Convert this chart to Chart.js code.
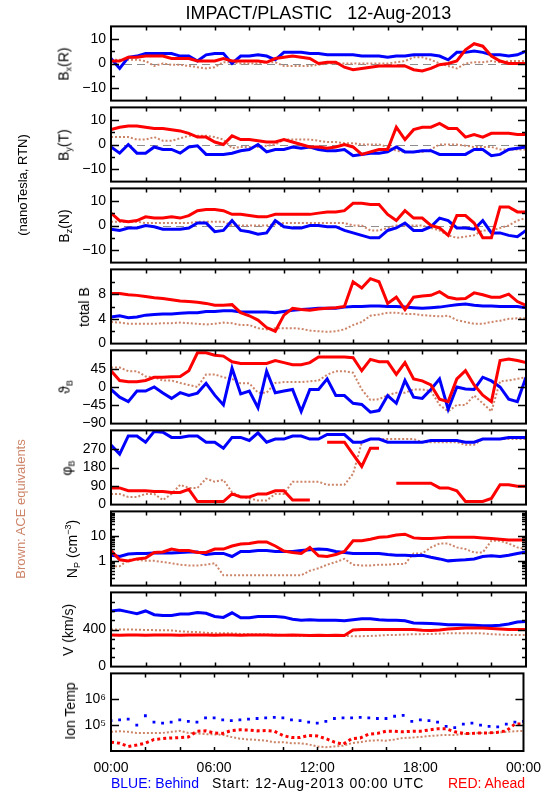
<!DOCTYPE html>
<html>
<head>
<meta charset="utf-8">
<title>IMPACT/PLASTIC 12-Aug-2013</title>
<script src="https://cdn.jsdelivr.net/npm/chart.js@4.4.1/dist/chart.umd.min.js"></script>
<style>
  html, body { margin: 0; padding: 0; background: #fff; }
  #page { position: relative; width: 550px; height: 800px; overflow: hidden; font-family: "Liberation Sans", Arial, sans-serif; color: #000; }
  #page canvas { position: absolute; left: 0; }
  .txt { position: absolute; white-space: pre; line-height: 1; font-size: 14px; transform: translate(-50%, -50%); }
  .txt.rot { transform: translate(-50%, -50%) rotate(-90deg); }
  .txt.left { transform: translate(0, -50%); }
  .txt sub { font-size: 9px; vertical-align: -3px; }
  .txt sup { font-size: 9px; vertical-align: 6px; }
</style>
</head>
<body>
<div id="page"></div>
<script>
// time axis: hours after 12-Aug-2013 00:00 UTC, every 30 min
const hours = [0,0.5,1,1.5,2,2.5,3,3.5,4,4.5,5,5.5,6,6.5,7,7.5,8,8.5,9,9.5,10,10.5,11,11.5,12,12.5,13,13.5,14,14.5,15,15.5,16,16.5,17,17.5,18,18.5,19,19.5,20,20.5,21,21.5,22,22.5,23,23.5,24];
const hourTicks = [0, 6, 12, 18, 24];
const hourLabels = ['00:00', '06:00', '12:00', '18:00', '00:00'];

// Bx (R), nT
const bxBehind = [2,-2,2.5,3,4,4,4,4,3,3,1,3.5,4,4,0,3,3,3.5,3,1.5,4.5,4.5,4.5,4,4,3.5,3.5,3.5,3.5,3,3,3,2.5,3,3,3.5,3.5,3.5,3,1.5,4.5,4.5,5,4.5,3.5,3.5,3,3.5,5];
const bxAhead = [1,1,2.5,2.5,3,3,3,2,2,2,1,1,1,2,1,1,1,1,0.5,2,2.5,3,2.5,2,0,0.5,0.5,-1.5,-2.5,-2,-1.5,-1,-1,-1,-1,-2.5,-3,-2,-0.5,0,1,5.5,8,7,3,1,0,0,0];
const bxAce = [1.5,1.5,1.5,1.5,1,-1,0,-0.5,-0.5,-1,-1.5,-2,-1.5,0.5,0.5,0,0,0,0.5,0.5,-1,-1,-1,-1,-0.5,0,0,0,0,0,0,0,0,0.5,1,2.5,2.5,1.5,0,-1,-2,0,0.5,0.5,1,0.5,1,1,1];

// By (T), nT
const byBehind = [-1,-3.5,0,-3.5,-3.5,-1,-2,-2,-3.5,-1,-0.5,-4,-4,-4,-3.5,-2.5,-2,0,-3,-2,-2,-1,-1.5,-1,-2,-2.5,-2.5,-2,-4.5,-4,-3.5,-3.5,-3,-1,-3,-3,-2.5,-2.5,-4,-4,-4,-4,-2,-2,-4.5,-4,-2,-1.5,-1];
const byAhead = [6,7,7.5,7.5,7,6.5,6.5,6,5.5,4.5,3,3,1,0,3.5,2,2,1.5,1,1,2,1,0,-1,-1,-1.5,-1,0,-1,-4,-3,-2,-2,7,2,6,7,7,8.5,6.5,6.5,3,4,3,4.5,4.5,4.5,4,4];
const byAce = [3,3,3,2,2,3,1.5,1.5,2.5,3.5,3.5,3.5,3,2,-1.5,-1,-1,-1,-0.5,0,2,2,2,2,1.5,1,1,0.5,0.5,0,0,0,-1,-2.5,-3,-3,-3,-2,0,0,0,-0.5,-1,-1,-1,-2,-2,-2,-2];

// Bz (N), nT
const bzBehind = [-1.5,-2,-1,-1,0,-0.5,-1.5,-1.5,-1.5,-1,1,1,-2.5,-2,2,-2,-2.5,-3.5,-3,2,-0.5,-1,-1,0,0,-0.5,-0.5,-2,-3,-4,-5,-5,-2,-1,1,-2,-2,-0.5,3,2,-1,-1,-1.5,2,-3,-3,-4,-4.5,-2];
const bzAhead = [5,2,1.5,2,3.5,3,3,3.5,3,4,6,6.5,6.5,6,4.5,4.5,4,3.5,3.5,4.5,4.5,4.5,4.5,4.5,5,5.5,5.5,6,9,9,8.5,8.5,4.5,2,6,3,3,0,-1,-4,4,4,1,-5,-5,7.5,7.5,5.5,5.5];
const bzAce = [1.5,1.5,1.5,1.5,1,1,1,1,1,1,1.5,1.5,1.5,1.5,0,0,0,0,0,0.5,1,1,1,1,1,1,1,1,0,0,-2,-2,-1,0,0,0,0,-1,-2,-4,-5,-4.5,-4,-2,-2,-1,0,2,3];

// total B, nT
const btBehind = [4.3,4.5,4.2,4.3,4.6,4.7,4.8,4.8,4.9,5.0,5.0,5.2,5.2,5.3,5.3,5.1,5.1,5.1,5.1,5.0,5.2,5.4,5.5,5.6,5.7,5.7,5.7,5.9,6.0,6.0,6.1,6.1,6.0,6.0,5.9,5.8,5.7,5.8,5.9,6.1,6.3,6.4,6.2,6.1,6.1,6.0,6.0,6.0,5.8];
const btAhead = [8.1,8.1,7.9,7.8,7.6,7.4,7.3,7.1,6.9,6.8,6.7,6.5,6.2,6.2,6.3,5.0,4.5,3.8,2.6,2.0,4.6,5.7,5.5,5.4,5.6,5.7,5.8,6.0,10,9,10.5,10,6.5,7.5,5.5,7.5,7.7,7.8,8.4,7.5,7.2,7.3,8.2,7.9,7.5,7.5,8.0,6.8,6.2];
const btAce = [3.5,3.4,3.2,3.2,3.2,3.2,3.3,3.3,3.4,3.3,3.2,3.1,3.2,3.4,3.3,3.0,3.0,2.5,2.3,2.5,2.5,2.5,2.4,2.1,2.0,1.9,2.0,2.3,3.0,3.5,4.5,4.7,5.0,5.0,4.8,4.8,4.6,4.5,4.4,4.5,3.8,3.5,3.2,3.2,3.5,3.7,4.0,4.1,4.1];

// theta B, degrees
const thBehind = [-6,-25,-36,-10,-10,0,-15,-28,-14,-21,-15,9,-20,-44,46,-17,-10,-51,39,-14,-10,-6,-60,-6,-6,20,-21,-21,-40,-43,-62,-58,-21,-40,16,-25,-28,-6,20,-55,0,-5,-6,24,15,0,-30,-36,24];
const thAhead = [40,16,13,13,16,24,24,25,26,40,84,84,78,76,62,58,58,58,58,65,60,55,55,60,74,74,74,74,72,40,68,62,62,31,60,20,15,5,-30,-36,20,40,5,-20,-36,65,69,65,60];
const thAce = [48,48,39,39,26,24,16,16,10,5,0,31,31,24,20,9,9,-14,-14,10,12,12,12,14,16,30,39,39,35,-6,-32,-30,-20,-14,-14,-6,-6,-10,-44,-60,-44,-44,-21,-40,-60,14,16,20,24];

// phi B, degrees
const phBehind = [289,245,333,333,303,355,351,326,326,333,333,303,303,274,326,326,311,348,303,318,318,333,333,318,318,340,340,340,303,303,318,318,303,303,303,303,303,311,311,311,311,303,303,318,318,318,326,326,326];
const phAhead = [81,81,67,67,67,64,64,59,59,74,15,15,15,15,52,37,37,52,52,67,67,22,22,22,null,303,303,303,244,185,274,274,null,104,104,104,104,104,81,81,67,15,15,15,30,96,96,89,89];
const phAce = [52,52,37,37,52,52,22,52,96,81,81,126,111,120,60,40,30,20,20,52,52,111,111,111,111,96,96,96,150,300,318,318,318,318,318,318,303,303,303,303,303,290,290,318,318,318,318,318,318];

// proton density, cm^-3
const npBehind = [1.7,1.5,1.9,2.0,2.0,2.1,2.1,2.1,2.2,2.3,2.3,1.8,2.0,2.0,1.5,2.4,2.4,2.6,2.6,2.4,2.4,2.4,2.6,2.8,3.0,2.9,2.4,2.2,2.0,2.0,2.0,2.0,1.8,1.7,1.7,1.6,1.7,1.4,1.2,1.0,1.05,1.1,1.2,1.5,1.6,1.5,1.7,2.0,2.3];
const npAhead = [2.6,1.1,1.0,1.2,1.3,2.2,2.3,3.0,2.6,2.6,2.2,2.2,3.0,3.0,4.0,4.8,5.0,5.8,5.8,4.0,2.5,2.2,2.0,3.5,1.6,1.5,1.8,2.4,6.5,6.5,7.5,9.0,9.5,11,12,8.5,8.0,8.0,8.5,9.0,9.0,9.0,9.0,8.5,8.0,7.5,7.0,7.0,7.0];
const npAce = [0.6,0.6,1.1,1.1,1.0,1.0,0.9,0.8,0.7,0.65,0.65,0.7,0.8,0.26,0.26,0.26,0.26,0.26,0.26,0.26,0.26,0.26,0.26,0.4,0.5,0.7,0.9,1.2,0.7,0.65,0.65,0.7,0.7,0.75,0.75,2.0,2.0,3.5,5.0,5.0,3.5,3.0,2.2,2.2,6.5,6.5,5.0,3.5,3.0];

// bulk speed, km/s
const vBehind = [600,610,590,570,600,560,550,550,567,567,583,575,540,530,580,527,527,540,540,540,533,510,500,505,500,500,500,495,505,517,517,505,500,500,495,470,467,465,460,450,450,448,445,440,440,445,460,480,485];
const vAhead = [340,338,340,342,338,340,342,340,338,340,342,340,338,340,340,338,340,342,340,338,338,340,338,336,338,336,338,336,395,400,400,400,400,400,400,400,392,390,395,405,410,415,417,415,412,405,400,400,400];
const vAce = [400,400,400,398,395,393,392,390,380,375,372,365,360,360,358,352,350,350,348,345,340,335,333,333,333,333,333,330,328,328,330,335,340,342,345,350,350,352,355,360,360,360,360,358,350,345,340,340,340];

// ion temperature, K
const tiBehind = [150000,160000,170000,100000,230000,130000,120000,130000,160000,140000,130000,190000,190000,160000,150000,160000,170000,180000,190000,200000,190000,160000,150000,130000,120000,140000,180000,190000,190000,200000,190000,180000,180000,220000,240000,140000,160000,150000,130000,90000,80000,110000,120000,100000,90000,85000,110000,130000,140000];
const tiAhead = [22000,20000,15000,17000,20000,28000,30000,32000,33000,35000,58000,60000,50000,48000,62000,66000,65000,60000,62000,58000,40000,33000,33000,40000,38000,30000,22000,18000,30000,32000,45000,48000,58000,58000,55000,58000,58000,65000,72000,72000,55000,48000,48000,50000,50000,53000,60000,110000,110000];
const tiAce = [55000,58000,55000,50000,50000,50000,50000,55000,60000,50000,48000,45000,44000,42000,35000,30000,28000,27000,25000,22000,22000,20000,20000,18000,15000,14000,15000,16000,20000,22000,25000,26000,25000,28000,32000,33000,35000,38000,40000,42000,42000,45000,48000,50000,50000,52000,55000,58000,60000];

// labelled y ticks
const bTicks = [-10, 0, 10];
const totalBTicks = [0, 4, 8];
const thetaTicks = [-90, -45, 0, 45];
const phiTicks = [0, 90, 180, 270];
const npTicks = [1, 10];
const vTicks = [0, 400];
const tempTicks = [1e5, 1e6];

const BLUE = '#0000ff';
const RED = '#ff0000';
const BROWN = 'rgb(205,133,105)';
const FONT = '"Liberation Sans", Arial, sans-serif';

const panels = [
    { ahead: bxAhead, behind: bxBehind, ace: bxAce, type: 'linear', min: -15, max: 15, ticks: bTicks, major: [-10, 0, 10], minor: [-5, 5], zero: true, title: 'B<sub>x</sub>(R)', titleX: 65 },
    { ahead: byAhead, behind: byBehind, ace: byAce, type: 'linear', min: -15, max: 15, ticks: bTicks, major: [-10, 0, 10], minor: [-5, 5], zero: true, title: 'B<sub>y</sub>(T)', titleX: 65 },
    { ahead: bzAhead, behind: bzBehind, ace: bzAce, type: 'linear', min: -15, max: 15, ticks: bTicks, major: [-10, 0, 10], minor: [-5, 5], zero: true, title: 'B<sub>z</sub>(N)', titleX: 65 },
    { ahead: btAhead, behind: btBehind, ace: btAce, type: 'linear', min: 0, max: 12, ticks: totalBTicks, major: [4, 8], minor: [2, 6, 10], title: 'total B', titleX: 84 },
    { ahead: thAhead, behind: thBehind, ace: thAce, type: 'linear', min: -90, max: 90, ticks: thetaTicks, major: [-45, 0, 45], minor: [], title: 'ϑ<sub>B</sub>', titleX: 66 },
    { ahead: phAhead, behind: phBehind, ace: phAce, type: 'linear', min: 0, max: 360, ticks: phiTicks, major: [90, 180, 270], minor: [], title: 'φ<sub>B</sub>', titleX: 68 },
    { ahead: npAhead, behind: npBehind, ace: npAce, type: 'logarithmic', min: 0.1, max: 100, ticks: npTicks, major: [1, 10],
      minor: [0.2,0.3,0.4,0.5,0.6,0.7,0.8,0.9,2,3,4,5,6,7,8,9,20,30,40,50,60,70,80,90], title: 'N<sub>P</sub> (cm<sup>−3</sup>)', titleX: 73 },
    { ahead: vAhead, behind: vBehind, ace: vAce, type: 'linear', min: 0, max: 800, ticks: vTicks, major: [400], minor: [100, 200, 300, 500, 600, 700], title: 'V (km/s)', titleX: 68 },
    { ahead: tiAhead, behind: tiBehind, ace: tiAce, type: 'logarithmic', min: 1e4, max: 1e7, ticks: tempTicks, major: [1e5, 1e6], minor: [], title: 'Ion Temp', titleX: 70, dots: true }
];

// panel edges in page pixels
const edges = [23, 104, 185, 266, 347, 427, 508, 589, 670, 751];
const PAD = 10;
const PLOT_LEFT = 111;
const PLOT_RIGHT = 526;
const xMinor = [2, 4, 6, 8, 10, 12, 14, 16, 18, 20, 22];

function series(values) {
    return values.map((v, k) => ({ x: hours[k], y: v }));
}

function tickText(v) {
    if (v === 1e5) return '10⁵';
    if (v === 1e6) return '10⁶';
    return String(v).replace('-', '−');
}

// frame, inward ticks and zero line, all placed through the chart scales
const panelFrame = {
    id: 'panelFrame',
    beforeDatasetsDraw(chart, args, opts) {
        if (!opts.zero) return;
        const { ctx, chartArea: a, scales: { y } } = chart;
        const py = Math.round(y.getPixelForValue(0)) + 0.5;
        ctx.save();
        ctx.strokeStyle = '#8c8c8c';
        ctx.lineWidth = 1;
        ctx.setLineDash([8, 5]);
        ctx.beginPath();
        ctx.moveTo(a.left, py);
        ctx.lineTo(a.right, py);
        ctx.stroke();
        ctx.restore();
    },
    afterDatasetsDraw(chart, args, opts) {
        const { ctx, chartArea: a, scales: { x, y } } = chart;
        ctx.save();
        ctx.strokeStyle = '#000';
        ctx.lineWidth = 1.5;
        ctx.beginPath();
        const yTick = (v, len) => {
            const py = Math.round(y.getPixelForValue(v)) + 0.5;
            ctx.moveTo(a.left, py); ctx.lineTo(a.left + len, py);
            ctx.moveTo(a.right, py); ctx.lineTo(a.right - len, py);
        };
        opts.major.forEach(v => yTick(v, 8));
        opts.minor.forEach(v => yTick(v, 4));
        xMinor.forEach(h => {
            const px = Math.round(x.getPixelForValue(h)) + 0.5;
            ctx.moveTo(px, a.top); ctx.lineTo(px, a.top + 4);
            ctx.moveTo(px, a.bottom); ctx.lineTo(px, a.bottom - 4);
        });
        ctx.stroke();
        ctx.lineWidth = 2;
        ctx.strokeRect(a.left, a.top, a.right - a.left, a.bottom - a.top);
        ctx.restore();
    }
};

const page = document.getElementById('page');

panels.forEach((p, i) => {
    const last = i === panels.length - 1;
    const top = edges[i] - PAD;
    const height = last ? 800 - top : edges[i + 1] - edges[i] + 2 * PAD;
    const canvas = document.createElement('canvas');
    canvas.width = 550;
    canvas.height = height;
    canvas.style.top = top + 'px';
    canvas.style.width = '550px';
    canvas.style.height = height + 'px';
    page.appendChild(canvas);

    const datasets = [
        { label: 'Ahead', data: series(p.ahead), borderColor: RED, backgroundColor: RED, borderWidth: 3,
          borderDash: p.dots ? [3, 3] : [], pointRadius: 0, clip: 0 },
        { label: 'Behind', data: series(p.behind), borderColor: BLUE, backgroundColor: BLUE, borderWidth: 3,
          showLine: !p.dots, pointStyle: 'rect', pointRadius: p.dots ? 2 : 0, pointBorderWidth: 0, clip: 0 },
        { label: 'ACE', data: series(p.ace), borderColor: BROWN, backgroundColor: BROWN, borderWidth: 2,
          borderDash: [2, 2], pointRadius: 0, clip: 0 }
    ];

    new Chart(canvas, {
        type: 'line',
        data: { datasets },
        options: {
            responsive: false,
            animation: false,
            devicePixelRatio: 1,
            events: [],
            layout: { padding: { top: PAD, bottom: last ? 0 : PAD, left: 0, right: 550 - PLOT_RIGHT } },
            plugins: {
                legend: { display: false },
                tooltip: { enabled: false },
                panelFrame: { major: p.major, minor: p.minor, zero: !!p.zero }
            },
            scales: {
                x: {
                    type: 'linear',
                    min: 0,
                    max: 24,
                    display: last,
                    grid: { display: false, drawTicks: false },
                    border: { display: false },
                    ticks: {
                        padding: 9,
                        color: '#000',
                        autoSkip: false,
                        maxRotation: 0,
                        font: { family: FONT, size: 14 },
                        callback: (v, k) => hourLabels[k]
                    },
                    afterBuildTicks: s => { s.ticks = hourTicks.map(v => ({ value: v })); },
                    afterFit: s => { s.height = last ? 800 - edges[edges.length - 1] : 0; }
                },
                y: {
                    type: p.type,
                    min: p.min,
                    max: p.max,
                    grid: { display: false, drawTicks: false },
                    border: { display: false },
                    ticks: {
                        padding: 5,
                        color: '#000',
                        autoSkip: false,
                        font: { family: FONT, size: 14 },
                        callback: v => tickText(v)
                    },
                    afterBuildTicks: s => { s.ticks = p.ticks.map(v => ({ value: v })); },
                    afterFit: s => { s.width = PLOT_LEFT; }
                }
            }
        },
        plugins: [panelFrame]
    });

    // y axis title
    addText(p.title, p.titleX, (edges[i] + edges[i + 1]) / 2, 'rot');
});

function addText(html, x, y, cls, style) {
    const d = document.createElement('div');
    d.className = 'txt' + (cls ? ' ' + cls : '');
    d.innerHTML = html;
    d.style.left = x + 'px';
    d.style.top = y + 'px';
    if (style) Object.assign(d.style, style);
    page.appendChild(d);
    return d;
}

addText('IMPACT/PLASTIC   12-Aug-2013', 318.5, 12.5, '', { fontSize: '18px' });
addText('(nanoTesla, RTN)', 22, 185, 'rot', { fontSize: '13px' });
addText('Brown: ACE equivalents', 20, 509, 'rot', { fontSize: '13px', color: BROWN });
addText('BLUE: Behind', 111, 783, 'left', { color: BLUE });
addText('Start: 12-Aug-2013 00:00 UTC', 212, 783, 'left', { letterSpacing: '0.8px' });
addText('RED: Ahead', 525, 783, '', { color: RED, transform: 'translate(-100%, -50%)' });
</script>
</body>
</html>
